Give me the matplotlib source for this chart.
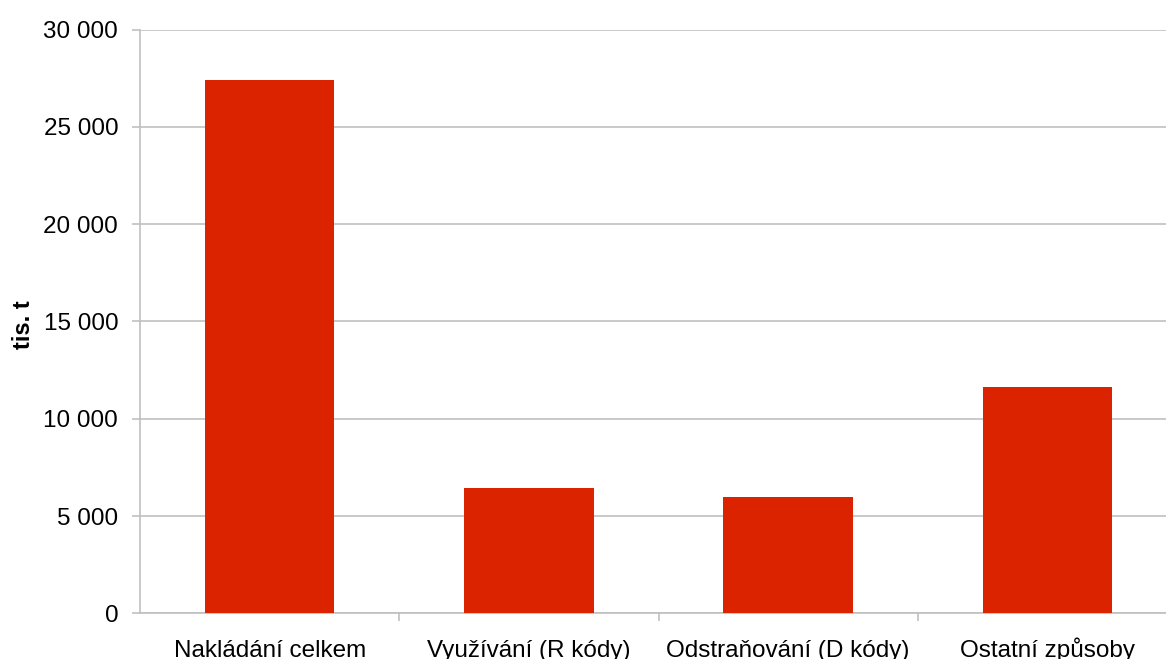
import matplotlib
matplotlib.use("Agg")
import matplotlib.pyplot as plt
from matplotlib.ticker import FuncFormatter, FixedLocator

categories = ["Nakládání celkem", "Využívání (R kódy)", "Odstraňování (D kódy)", "Ostatní způsoby"]
values = [27400, 6430, 6000, 11650]
y_ticks = [0, 5000, 10000, 15000, 20000, 25000, 30000]
y_label = "tis. t"

plt.rcParams['font.family'] = ['Liberation Sans', 'DejaVu Sans']

W, H = 1166, 659
fig = plt.figure(figsize=(W / 100, H / 100), dpi=100)
left, right = 140 / W, 1177 / W
bottom, top = (H - 613.3) / H, (H - 29.7) / H
ax = fig.add_axes([left, bottom, right - left, top - bottom])

grid_c = "#c0c0c0"
x = list(range(len(categories)))
ax.bar(x, values, width=0.5, color="#DC2300", zorder=3)
ax.set_xlim(-0.5, len(categories) - 0.5)
ax.set_ylim(0, 30000)

ax.set_yticks(y_ticks)
ax.yaxis.set_major_formatter(FuncFormatter(lambda v, p: f"{int(v):,}".replace(",", " ")))
ax.grid(axis="y", color=grid_c, linewidth=1.2, zorder=0)
ax.set_axisbelow(True)

ax.set_xticks(x)
ax.set_xticklabels(categories)
ax.xaxis.set_minor_locator(FixedLocator([i + 0.5 for i in range(len(categories) - 1)]))
ax.tick_params(axis="x", which="major", length=0, pad=31.5, labelsize=17.5)
for lbl in ax.get_xticklabels():
    lbl.set_verticalalignment("baseline")
ax.tick_params(axis="x", which="minor", length=6, width=1.2, color=grid_c)
ax.tick_params(axis="y", which="major", length=6, width=1.2, color=grid_c, pad=9.7, labelsize=17.5)

for s in ["top", "right"]:
    ax.spines[s].set_visible(False)
for s in ["left", "bottom"]:
    ax.spines[s].set_color(grid_c)
    ax.spines[s].set_linewidth(1.2)

fig.text(23 / W, (H - 325) / H, y_label, rotation=90, fontsize=17, fontweight="bold",
         ha="center", va="center")

fig.savefig("out.png", dpi=100)
